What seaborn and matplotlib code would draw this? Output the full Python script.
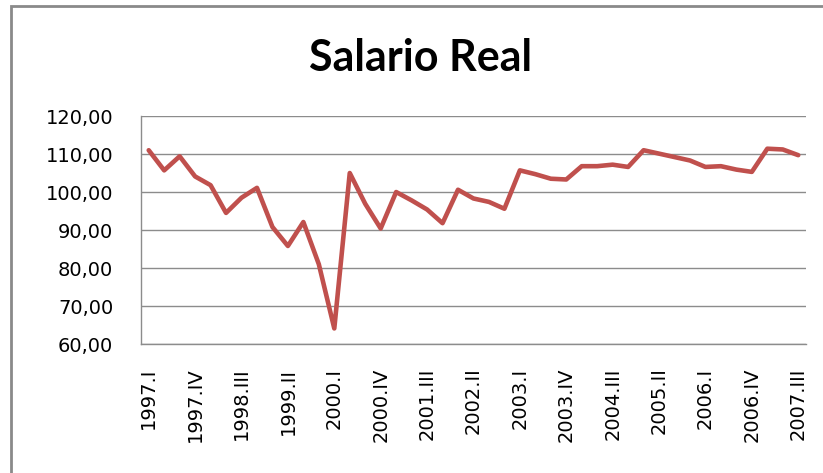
import matplotlib
matplotlib.use("Agg")
import matplotlib.pyplot as plt
from matplotlib.patches import Rectangle
import seaborn as sns
import pandas as pd

# quarterly real wage index, 1997.I - 2007.III
years = [1997] * 4 + [1998] * 4 + [1999] * 4 + [2000] * 4 + [2001] * 4 + [2002] * 4 \
    + [2003] * 4 + [2004] * 4 + [2005] * 4 + [2006] * 4 + [2007] * 3
quarters = ["I", "II", "III", "IV"] * 10 + ["I", "II", "III"]
salario = [
    111.0, 105.7, 109.4, 104.1, 101.8, 94.5, 98.5, 101.1, 90.8, 85.8, 92.1, 81.0,
    64.1, 105.0, 96.9, 90.4, 100.0, 97.8, 95.4, 91.8, 100.6, 98.3, 97.4, 95.6,
    105.7, 104.7, 103.5, 103.3, 106.8, 106.8, 107.2, 106.6, 111.0, 110.1, 109.2,
    108.3, 106.6, 106.8, 105.9, 105.3, 111.4, 111.2, 109.7,
]
labels = [f"{y}.{q}" for y, q in zip(years, quarters)]

df = pd.DataFrame({"pos": range(len(salario)), "salario": salario, "periodo": labels})

sns.set_style("white")
plt.rcParams["text.color"] = "black"
plt.rcParams["xtick.color"] = "black"
plt.rcParams["ytick.color"] = "black"

fig = plt.figure(figsize=(8.23, 4.73), dpi=100)
ax = fig.add_axes([0.1713, 0.2727, 0.808, 0.482])

sns.lineplot(data=df, x="pos", y="salario", ax=ax, color="#C0504D", linewidth=3.3)

ax.set_xlim(-0.5, len(salario) - 0.5)
ax.set_ylim(60, 120)
ax.set_yticks(range(60, 121, 10))
ax.set_yticklabels([f"{v},00" for v in range(60, 121, 10)], fontsize=14, color="black")
ticks = list(range(0, len(salario), 3))
ax.set_xticks(ticks)
ax.set_xticklabels([labels[i] for i in ticks], rotation=90, fontsize=14, color="black")
ax.tick_params(axis="y", length=0, pad=20)
ax.tick_params(axis="x", length=0, pad=17)
ax.set_xlabel("")
ax.set_ylabel("")

ax.grid(axis="y", color="#8c8c8c", linewidth=1.0)
ax.set_axisbelow(True)
for side in ["top", "right"]:
    ax.spines[side].set_visible(False)
for side in ["left", "bottom"]:
    ax.spines[side].set_color("#8c8c8c")
    ax.spines[side].set_linewidth(1.0)

fig.text(421 / 823, 1 - 58 / 473, "Salario Real", ha="center", va="center",
         fontsize=31, fontweight="bold", family="Lato", color="black")

fig.add_artist(Rectangle((11 / 823, -0.2), 1.3, 1.2 - 6 / 473,
                         transform=fig.transFigure, fill=False,
                         edgecolor="#8a8a8a", linewidth=2.0))

fig.savefig("out.png", dpi=100)
